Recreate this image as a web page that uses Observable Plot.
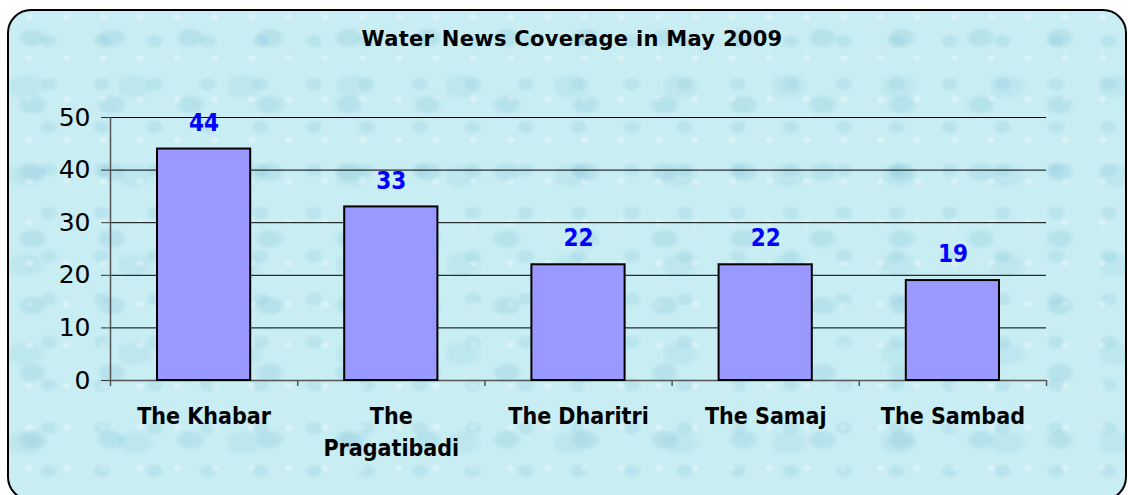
<!DOCTYPE html>
<html><head><meta charset="utf-8">
<script src="https://cdn.jsdelivr.net/npm/d3@7"></script>
<script src="https://cdn.jsdelivr.net/npm/@observablehq/plot@0.6"></script>
<style>
html,body{margin:0;padding:0;background:#fff;}
#wrap{position:relative;width:1128px;height:495px;overflow:hidden;}
#panel{position:absolute;left:7px;top:9px;width:1120px;height:492px;border:2px solid #000;border-radius:24px;box-sizing:border-box;
  background-color:#c8edf3;
  background-image:
    radial-gradient(ellipse 16px 11px at 30% 40%, rgba(110,180,205,.20) 55%, transparent 100%),
    radial-gradient(ellipse 10px 8px at 75% 70%, rgba(120,190,210,.18) 55%, transparent 100%),
    radial-gradient(ellipse 5px 4px at 55% 15%, rgba(255,255,255,.30) 55%, transparent 100%),
    radial-gradient(ellipse 22px 14px at 15% 85%, rgba(130,195,215,.16) 55%, transparent 100%);
  background-size:79px 67px, 53px 43px, 37px 41px, 109px 89px;}
#title{position:absolute;left:8px;width:1128px;top:29px;text-align:center;font:bold 21px "DejaVu Sans";letter-spacing:0.3px;line-height:21px;color:#000;}
#chart{position:absolute;left:0;top:0;}
</style></head>
<body>
<div id="wrap"><div id="panel"></div><div id="title">Water News Coverage in May 2009</div><div id="chart"></div></div>
<script>
const categories = ["The Khabar", "The\nPragatibadi", "The Dharitri", "The Samaj", "The Sambad"];
const values = [44, 33, 22, 22, 19];
const yTicks = [0, 10, 20, 30, 40, 50];

const data = categories.map((c, i) => ({i, label: c, v: values[i]}));
const cond = "'DejaVu Sans Condensed', 'DejaVu Sans'";

const chart = Plot.plot({
  width: 1128, height: 495,
  marginLeft: 110, marginRight: 82, marginTop: 117, marginBottom: 115,
  style: {background: "transparent", fontFamily: "DejaVu Sans", overflow: "visible"},
  x: {type: "linear", domain: [0, 5], axis: null},
  y: {domain: [0, 50], axis: null},
  marks: [
    Plot.ruleY(yTicks.filter(d => d > 0), {stroke: "#000", strokeWidth: 1}),
    Plot.axisY({ticks: yTicks, tickSize: 9, tickPadding: 11, fontSize: 25, stroke: "#333", fill: "#000", label: null, tickFormat: d => String(d)}),
    Plot.ruleY([0], {stroke: "#555", strokeWidth: 1.5}),
    Plot.ruleX([0], {y1: 0, y2: 50, stroke: "#555", strokeWidth: 1.5}),
    Plot.axisX({ticks: [0, 1, 2, 3, 4, 5], tickSize: 6, label: null, tickFormat: () => "", stroke: "#555", strokeWidth: 1.5}),
    Plot.rectY(data, {x1: "i", x2: d => d.i + 1, y: "v", fill: "#9999ff", stroke: "#000", strokeWidth: 2, insetLeft: 47, insetRight: 47}),
    Plot.text(data, {x: d => d.i + 0.5, y: "v", text: d => String(d.v), dy: -26, fill: "#0000ff", fontWeight: "bold", fontSize: 24, fontFamily: cond}),
    Plot.text(data, {x: d => d.i + 0.5, y: 0, text: "label", lineAnchor: "top", dy: 21, fontSize: 23, fontWeight: "bold", lineHeight: 1.39, fill: "#000", fontFamily: cond})
  ]
});
document.getElementById("chart").appendChild(chart);
</script>
</body></html>
